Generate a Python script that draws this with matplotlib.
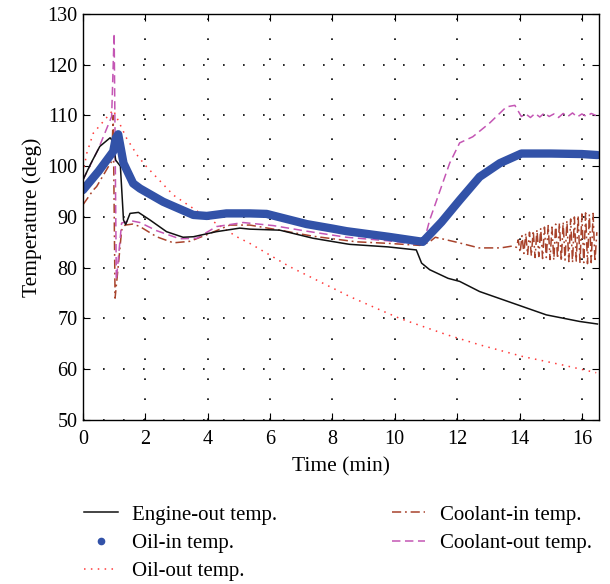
import matplotlib
matplotlib.use("Agg")
import matplotlib.pyplot as plt
from matplotlib.lines import Line2D

# ---------------- data ----------------
t_engine = [0.0, 0.25, 0.54, 0.87, 0.95, 1.05, 1.2, 1.3, 1.37, 1.51, 1.78, 2.15, 2.68, 3.21, 3.54,
            4.28, 5.03, 5.35, 6.31, 7.38, 8.45, 8.56, 9.78, 10.69, 10.86, 11.12, 11.71, 12.08,
            12.72, 13.79, 14.86, 15.93, 16.5]
v_engine = [97.3, 100.5, 103.9, 105.6, 105.0, 101.2, 100.0, 89.4, 88.5, 90.7, 90.9, 89.4, 87.1, 86.0, 86.1,
            87.1, 87.8, 87.6, 87.4, 85.8, 84.7, 84.6, 84.1, 83.5, 80.9, 79.6, 77.9, 77.3,
            75.3, 73.0, 70.7, 69.4, 68.9]

t_oilin = [0.0, 0.5, 0.97, 1.05, 1.13, 1.3, 1.61, 1.83, 2.57, 2.68, 3.54, 3.97, 4.6, 5.35, 5.89,
           7.17, 8.01, 8.45, 9.79, 10.9, 10.96, 11.5, 12.08, 12.72, 13.37, 14.06, 15.0, 16.0, 16.5]
v_oilin = [95.3, 99.0, 102.9, 105.5, 106.3, 100.6, 96.6, 95.6, 93.0, 92.7, 90.4, 90.2, 90.7, 90.7, 90.6,
           88.6, 87.7, 87.2, 86.1, 85.1, 85.5, 89.0, 93.3, 97.9, 100.6, 102.5, 102.5, 102.4, 102.2]

t_oilout = [0.0, 0.12, 0.33, 0.65, 0.97, 1.4, 1.77, 2.04, 2.9, 3.75, 4.93, 5.35, 6.63, 8.56, 9.52,
            10.16, 11.66, 12.72, 14.1, 15.4, 16.46]
v_oilout = [98.5, 102.5, 106.5, 108.8, 111.1, 105.5, 101.9, 99.9, 94.3, 90.8, 86.1, 84.8, 80.2, 74.3, 71.7,
            70.0, 66.8, 64.8, 62.5, 60.8, 59.3]

t_coolin = [0.0, 0.33, 0.44, 0.87, 0.92, 0.97, 1.03, 1.13, 1.24, 1.35, 1.6, 1.83, 2.36, 2.9, 3.43,
            3.97, 4.71, 5.35, 6.31, 7.38, 8.77, 9.78, 10.8, 11.1, 11.3, 11.65, 12.0, 12.7, 13.4, 13.8,
            13.90, 13.96, 14.02, 14.08, 14.14, 14.20, 14.26, 14.32, 14.38, 14.44, 14.50, 14.56,
            14.62, 14.68, 14.74, 14.80, 14.86, 14.92, 14.98, 15.04, 15.10, 15.16, 15.22, 15.28,
            15.34, 15.40, 15.46, 15.52, 15.58, 15.64, 15.70, 15.76, 15.82, 15.88, 15.94, 16.00,
            16.06, 16.12, 16.18, 16.24, 16.30, 16.36, 16.42, 16.48]
v_coolin = [92.4, 95.3, 96.0, 100.5, 100.9, 110.0, 74.0, 80.2, 87.4, 88.4, 88.6, 88.1, 86.1, 84.9, 85.2,
            86.5, 88.4, 88.4, 87.4, 86.2, 85.1, 84.8, 84.4, 85.0, 86.0, 85.5, 85.0, 83.9, 83.9, 84.3,
            84.0, 85.5, 83.0, 86.3, 82.8, 86.8, 82.5, 87.0, 82.3, 87.3, 82.0, 87.5,
            82.2, 87.8, 81.8, 88.0, 82.0, 88.3, 81.6, 88.0, 81.5, 88.6, 81.8, 88.8,
            81.3, 89.0, 81.5, 89.3, 81.2, 89.6, 81.0, 90.0, 81.3, 90.3, 80.9, 90.6,
            81.0, 90.8, 80.8, 90.5, 81.0, 90.7, 81.2, 87.0]

t_coolout = [0.0, 0.5, 0.92, 1.0, 1.07, 1.24, 1.5, 1.83, 2.36, 3.1, 3.65, 4.28, 5.14, 6.1, 7.17,
             8.45, 9.78, 10.8, 10.95, 11.12, 11.76, 12.08, 12.5, 13.04, 13.58, 13.85, 14.06,
             14.2, 14.35, 14.5, 14.65, 14.8, 14.95, 15.1, 15.25, 15.4, 15.55, 15.7, 15.85,
             16.0, 16.15, 16.3, 16.45]
v_coolout = [97.3, 103.5, 109.8, 126.2, 77.6, 88.8, 89.3, 88.9, 87.3, 85.7, 85.8, 88.1, 88.9, 88.3, 87.2,
             86.0, 85.3, 84.6, 85.5, 89.4, 100.6, 104.6, 105.8, 108.5, 111.7, 112.0, 109.8,
             110.3, 109.6, 110.4, 109.7, 110.5, 109.8, 110.3, 109.6, 110.4, 109.8, 110.5, 109.7,
             110.3, 109.8, 110.4, 110.0]

labels = ["Engine-out temp.", "Oil-in temp.", "Oil-out temp.", "Coolant-in temp.", "Coolant-out temp."]
x_ticks = [0, 2, 4, 6, 8, 10, 12, 14, 16]
y_ticks = [50, 60, 70, 80, 90, 100, 110, 120, 130]

# ---------------- style ----------------
plt.rcParams['font.family'] = ['Liberation Serif', 'DejaVu Serif']
plt.rcParams['font.size'] = 14.5

c_black = '#111111'
c_blue = '#3252a8'
c_red = '#ff3a3a'
c_brown = '#a8432c'
c_mag = '#c456b4'

fig = plt.figure(figsize=(6.10, 5.84), dpi=100)
ax = fig.add_axes([0.136, 0.281, 0.846, 0.695])

ls_red = (0, (1, 3.5))
ls_brown = (0, (6, 2.5, 1.2, 2.5))
ls_mag = (0, (5.5, 3))

ax.plot(t_oilout, v_oilout, color=c_red, lw=1.1, ls=ls_red)
ax.plot(t_coolin, v_coolin, color=c_brown, lw=1.1, ls=ls_brown)
ax.plot(t_coolout, v_coolout, color=c_mag, lw=1.1, ls=ls_mag)
ax.plot(t_engine, v_engine, color=c_black, lw=1.1)
ax.plot(t_oilin, v_oilin, color=c_blue, lw=6, solid_capstyle='round', solid_joinstyle='round')

ax.set_xlim(0, 16.55)
ax.set_ylim(50, 130)
ax.set_xticks(x_ticks)
ax.set_yticks(y_ticks)
ax.tick_params(direction='in', top=True, right=True, length=5, width=0.8, labelsize=14.5)
ax.tick_params(axis='x', pad=7)
ax.tick_params(axis='y', pad=4)
ax.grid(True, color='black', ls=(0, (1, 11)), lw=1.2)
for s in ax.spines.values():
    s.set_linewidth(1.0)

ax.set_xlabel("Time (min)", fontsize=15.5, labelpad=6)
ax.set_ylabel("Temperature (deg)", fontsize=15.5, labelpad=4)

handles = [
    Line2D([], [], color=c_black, lw=1.1),
    Line2D([], [], color=c_blue, ls='none', marker='o', ms=4.5),
    Line2D([], [], color=c_red, lw=1.1, ls=ls_red),
    Line2D([], [], color=c_brown, lw=1.1, ls=ls_brown),
    Line2D([], [], color=c_mag, lw=1.1, ls=ls_mag),
]
fig.legend(handles, labels, ncol=2, loc='upper left', bbox_to_anchor=(0.138, 0.135),
           frameon=False, fontsize=15, handlelength=1.6, handletextpad=0.7,
           columnspacing=5.5, labelspacing=0.42, borderaxespad=0, borderpad=0)

fig.savefig("out.png", dpi=100)
